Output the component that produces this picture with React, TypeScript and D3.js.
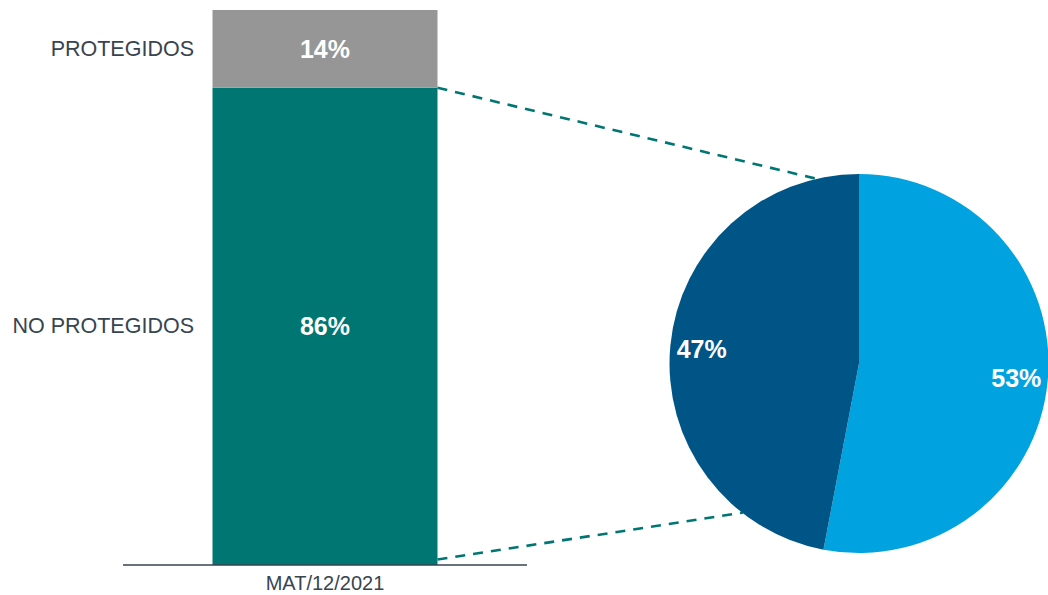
import React from "react";
import * as d3 from "d3";

const categories = ["NO PROTEGIDOS", "PROTEGIDOS"];
const barValues = [86, 14];
const barLabels = ["86%", "14%"];
const period = "MAT/12/2021";
const pieValues = [53, 47];
const pieLabels = ["53%", "47%"];

const W = 1048;
const H = 595;
const barColors = ["#007672", "#969696"];
const pieColors = ["#00A3E0", "#005587"];
const teal = "#007672";
const textDark = "#37454f";
const font = "Arial, 'Liberation Sans', Helvetica, sans-serif";

export default function App() {
  const x = d3.scaleBand().domain([period]).range([123, 527]).paddingInner(0).paddingOuter(0.222);
  const bw = 225;
  const bx = (x(period) as number) + x.bandwidth() / 2 - bw / 2;
  const y = d3.scaleLinear().domain([0, 100]).range([565, 10]);

  const stacks: { cat: string; v0: number; v1: number; label: string; color: string }[] = [];
  let acc = 0;
  barValues.forEach((v, i) => {
    stacks.push({ cat: categories[i], v0: acc, v1: acc + v, label: barLabels[i], color: barColors[i] });
    acc += v;
  });

  const cx = 859;
  const cy = 363.5;
  const R = 189.5;
  const pie = d3.pie<number>().sort(null).value((d) => d);
  const arcs = pie(pieValues);
  const arc = d3.arc<d3.PieArcDatum<number>>().innerRadius(0).outerRadius(R);
  const labelArc = d3.arc<d3.PieArcDatum<number>>().innerRadius(316).outerRadius(0);

  const ptOnPie = (deg: number, r: number) => {
    const a = (deg * Math.PI) / 180;
    return [cx + r * Math.sin(a), cy - r * Math.cos(a)];
  };
  const up = ptOnPie(-9.7, 184.6);
  const lo = ptOnPie(217.9, 189);
  const barRight = bx + bw;

  return (
    <svg width={W} height={H} style={{ position: "absolute", left: 0, top: 0, fontFamily: font }}>
      <rect x={0} y={0} width={W} height={H} fill="#ffffff" />
      {stacks.map((s, i) => (
        <g key={i}>
          <rect x={bx} y={y(s.v1)} width={bw} height={y(s.v0) - y(s.v1)} fill={s.color} />
          <text
            x={bx + bw / 2}
            y={(y(s.v0) + y(s.v1)) / 2}
            textAnchor="middle"
            dominantBaseline="central"
            fill="#ffffff"
            fontWeight="bold"
            fontSize={25}
          >
            {s.label}
          </text>
          <text
            x={194}
            y={(y(s.v0) + y(s.v1)) / 2}
            textAnchor="end"
            dominantBaseline="central"
            fill={textDark}
            fontSize={21.5}
          >
            {s.cat}
          </text>
        </g>
      ))}
      <line x1={123} x2={527} y1={565} y2={565} stroke="#37424c" strokeWidth={1.6} />
      <text x={bx + bw / 2} y={590} textAnchor="middle" fill={textDark} fontSize={20}>
        {period}
      </text>
      <line x1={barRight} y1={y(barValues[0])} x2={up[0]} y2={up[1]} stroke={teal} strokeWidth={2.6} strokeDasharray="10 8" />
      <line x1={barRight} y1={559.5} x2={lo[0]} y2={lo[1]} stroke={teal} strokeWidth={2.6} strokeDasharray="10 8" />
      <g transform={`translate(${cx},${cy})`}>
        {arcs.map((a, i) => (
          <path key={i} d={arc(a) as string} fill={pieColors[i]} />
        ))}
        {arcs.map((a, i) => {
          const [lx, ly] = labelArc.centroid(a);
          return (
            <text
              key={"l" + i}
              x={lx}
              y={ly}
              textAnchor="middle"
              dominantBaseline="central"
              fill="#ffffff"
              fontWeight="bold"
              fontSize={25}
            >
              {pieLabels[i]}
            </text>
          );
        })}
      </g>
    </svg>
  );
}
